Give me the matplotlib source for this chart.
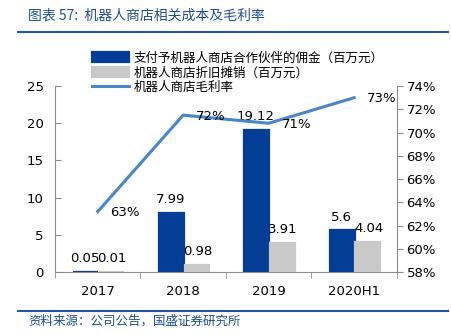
import matplotlib
matplotlib.use("Agg")
import matplotlib.pyplot as plt
import numpy as np

plt.rcParams['font.family'] = ['Noto Sans CJK SC', 'DejaVu Sans']

categories = ["2017", "2018", "2019", "2020H1"]
commission = [0.05, 7.99, 19.12, 5.6]
depreciation = [0.01, 0.98, 3.91, 4.04]
margin = [63.2, 71.5, 70.8, 73.0]
margin_labels = ["63%", "72%", "71%", "73%"]
commission_labels = ["0.05", "7.99", "19.12", "5.6"]
depreciation_labels = ["0.01", "0.98", "3.91", "4.04"]

blue = "#033D96"
gray = "#C9C9C9"
lblue = "#4A86C8"
spine_c = "#8C8C8C"

fig = plt.figure(figsize=(4.51, 3.35), dpi=100)
ax = fig.add_axes([0.122, 0.188, 0.758, 0.555])
ax2 = ax.twinx()

x = np.arange(len(categories))
w = 0.29
b1 = ax.bar(x - 0.14, commission, w, color=blue, edgecolor=blue, linewidth=1.6,
            label="支付予机器人商店合作伙伴的佣金（百万元）", zorder=3)
b2 = ax.bar(x + 0.16, depreciation, w, color=gray, edgecolor=gray, linewidth=1.6,
            label="机器人商店折旧摊销（百万元）", zorder=3)
ln, = ax2.plot(x, margin, color=lblue, lw=2.2, label="机器人商店毛利率", zorder=3)

fs = 9.5
for xi, v, t in zip(x, commission, commission_labels):
    ax.text(xi - 0.15, v + 0.9, t, ha="center", va="bottom", fontsize=fs, family="DejaVu Sans")
for xi, v, t in zip(x, depreciation, depreciation_labels):
    ax.text(xi + 0.17, v + 0.9, t, ha="center", va="bottom", fontsize=fs, family="DejaVu Sans")
for xi, v, t in zip(x, margin, margin_labels):
    ax2.text(xi + 0.15, v - 0.1, t, ha="left", va="center", fontsize=fs, family="DejaVu Sans")

ax.set_xlim(-0.5, len(categories) - 0.5)
ax.set_ylim(0, 25)
ax.set_yticks([0, 5, 10, 15, 20, 25])
ax2.set_ylim(58, 74)
ax2.set_yticks(np.arange(58, 75, 2))
ax2.set_yticklabels([f"{v}%" for v in range(58, 75, 2)])

ax.set_xticks(x)
ax.set_xticklabels(categories, family="DejaVu Sans")
ax.set_xticks(np.arange(-0.5, len(categories), 1), minor=True)
ax.tick_params(axis="x", which="major", length=0, labelsize=fs, pad=9)
ax.tick_params(axis="x", which="minor", length=4, color=spine_c, direction="out")
ax.tick_params(axis="y", labelsize=fs, length=4, color=spine_c, direction="in", pad=8)
ax2.tick_params(axis="y", labelsize=fs, length=4, color=spine_c, direction="out", pad=3)
for lab in ax.get_yticklabels() + ax2.get_yticklabels():
    lab.set_family("DejaVu Sans")

for a in (ax, ax2):
    a.spines["top"].set_visible(False)
    for s in ("left", "right", "bottom"):
        a.spines[s].set_color(spine_c)
ax2.spines["left"].set_visible(False)
ax2.spines["bottom"].set_visible(False)
ax.spines["right"].set_visible(False)

leg = fig.legend(handles=[b1, b2, ln], loc="upper left", bbox_to_anchor=(0.19, 0.865),
                 frameon=False, fontsize=9, handlelength=3.0, handleheight=0.9,
                 labelspacing=0.15, handletextpad=0.3, borderpad=0)

# title and footer
fig.text(0.062, 0.952, "图表 57:  机器人商店相关成本及毛利率", fontsize=10, color="#1F4E9A",
         ha="left", va="center", style="italic")
fig.add_artist(plt.Line2D([0.04, 0.993], [0.904, 0.904], color="#2456A4", lw=1.5))
fig.add_artist(plt.Line2D([0.04, 0.993], [0.072, 0.072], color="#2456A4", lw=1.5))
fig.text(0.062, 0.042, "资料来源：公司公告，国盛证券研究所", fontsize=9, color="#1F4E9A",
         ha="left", va="center", style="italic")

fig.savefig("out.png", dpi=100)
